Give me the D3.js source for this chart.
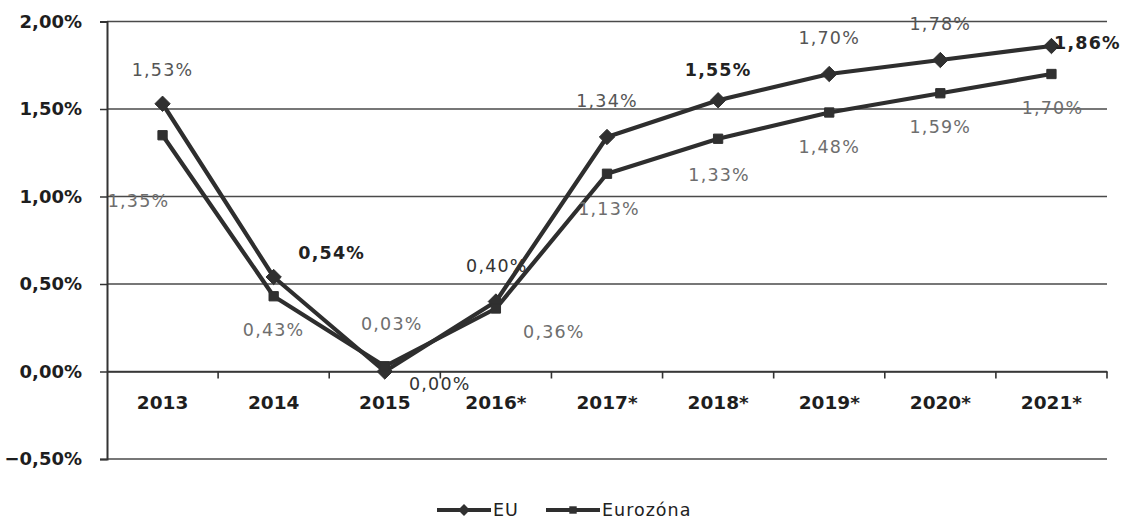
<!DOCTYPE html>
<html>
<head>
<meta charset="utf-8">
<script src="https://cdn.jsdelivr.net/npm/d3@7"></script>
<style>
  html, body { margin: 0; padding: 0; background: #fff; }
  svg { display: block; }
</style>
</head>
<body>
<svg id="chart" width="1125" height="519"></svg>
<script>
// Inflation: EU vs. Eurozone, 2013–2021 (* forecast)
const categories = ["2013", "2014", "2015", "2016*", "2017*", "2018*", "2019*", "2020*", "2021*"];
const euValues = [1.53, 0.54, 0.00, 0.40, 1.34, 1.55, 1.70, 1.78, 1.86];
const ezValues = [1.35, 0.43, 0.03, 0.36, 1.13, 1.33, 1.48, 1.59, 1.70];
const yTicks = [-0.5, 0, 0.5, 1.0, 1.5, 2.0];
const seriesNames = ["EU", "Eurozóna"];

// label placement relative to each point (px) and emphasis
const euLabelLayout = [
  {dx: 0, dy: -34, w: 400, c: "#555"}, {dx: 58, dy: -24, w: 700, c: "#222"},
  {dx: 55, dy: 12, w: 400, c: "#333"}, {dx: 1, dy: -36, w: 400, c: "#333"},
  {dx: 0, dy: -36, w: 400, c: "#555"}, {dx: 0, dy: -31, w: 700, c: "#222"},
  {dx: 0, dy: -36, w: 400, c: "#555"}, {dx: 0, dy: -36, w: 400, c: "#555"},
  {dx: 36, dy: -3, w: 700, c: "#222"}
];
const ezLabelLayout = [
  {dx: -24, dy: 65}, {dx: 0, dy: 33}, {dx: 7, dy: -43}, {dx: 58, dy: 23},
  {dx: 2, dy: 35}, {dx: 1, dy: 36}, {dx: 0, dy: 34}, {dx: 0, dy: 33}, {dx: 1, dy: 34}
];

const svg = d3.select("#chart");
const left = 107, right = 1107;

const x = d3.scaleBand().domain(categories).range([left, right]).padding(0);
const y = d3.scaleLinear().domain([-0.5, 2.0]).range([459, 21.5]);

const locale = d3.formatLocale({decimal: ",", thousands: " ", grouping: [3], currency: ["", "€"]});
const pct = v => locale.format(".2f")(v) + "%";

const lineColor = "#2e2e2e";

// horizontal gridlines
svg.append("g")
  .selectAll("line")
  .data(yTicks)
  .join("line")
  .attr("x1", left).attr("x2", right)
  .attr("y1", d => y(d)).attr("y2", d => y(d))
  .attr("stroke", "#4a4a4a")
  .attr("stroke-width", 1.6);

// y axis
const yAxis = svg.append("g")
  .attr("transform", `translate(${left},0)`)
  .call(d3.axisLeft(y).tickValues(yTicks).tickFormat(pct).tickSize(7).tickPadding(18));
yAxis.select(".domain").attr("stroke", "#333").attr("stroke-width", 2);
yAxis.selectAll(".tick line").attr("stroke", "#333").attr("stroke-width", 1.5);
yAxis.selectAll(".tick text")
  .attr("font-family", "DejaVu Sans, sans-serif")
  .attr("font-weight", "bold")
  .attr("font-size", 18)
  .attr("fill", "#1e1e1e");

// category axis along zero
const xAxis = svg.append("g")
  .attr("transform", `translate(0,${y(0)})`)
  .call(d3.axisBottom(x).tickSize(0).tickPadding(24));
xAxis.select(".domain").attr("stroke", "#333").attr("stroke-width", 1.6);
xAxis.selectAll(".tick text")
  .attr("font-family", "DejaVu Sans, sans-serif")
  .attr("font-weight", "bold")
  .attr("font-size", 18.5)
  .attr("fill", "#1e1e1e");
// tick marks between categories
xAxis.append("g")
  .selectAll("line")
  .data(categories.slice(1).concat([null]))
  .join("line")
  .attr("x1", (d, i) => d ? x(d) : right)
  .attr("x2", (d, i) => d ? x(d) : right)
  .attr("y1", 0).attr("y2", 7)
  .attr("stroke", "#333").attr("stroke-width", 1.6);

const cx = c => x(c) + x.bandwidth() / 2;
const line = d3.line().x((d, i) => cx(categories[i])).y(d => y(d));

const series = [
  {name: seriesNames[0], values: euValues, marker: d3.symbolDiamond2, size: 150},
  {name: seriesNames[1], values: ezValues, marker: d3.symbolSquare2, size: 110}
];

// lines
series.slice().reverse().forEach(s => {
  svg.append("path")
    .datum(s.values)
    .attr("d", line)
    .attr("fill", "none")
    .attr("stroke", lineColor)
    .attr("stroke-width", 4.2)
    .attr("stroke-linejoin", "round");
});

// markers
series.forEach(s => {
  svg.append("g")
    .selectAll("path")
    .data(s.values)
    .join("path")
    .attr("transform", (d, i) => `translate(${cx(categories[i])},${y(d)})`)
    .attr("d", d3.symbol().type(s.marker).size(s.size))
    .attr("fill", "#303030")
    .attr("stroke", "#303030")
    .attr("stroke-width", 1);
});

// data labels
const labelFont = "DejaVu Sans, sans-serif";
svg.append("g")
  .selectAll("text")
  .data(euValues)
  .join("text")
  .attr("x", (d, i) => cx(categories[i]) + euLabelLayout[i].dx)
  .attr("y", (d, i) => y(d) + euLabelLayout[i].dy)
  .attr("dy", "0.36em")
  .attr("text-anchor", "middle")
  .attr("font-family", labelFont)
  .attr("font-size", 17.5)
  .attr("letter-spacing", 1.2)
  .attr("font-weight", (d, i) => euLabelLayout[i].w)
  .attr("fill", (d, i) => euLabelLayout[i].c)
  .text(pct);

svg.append("g")
  .selectAll("text")
  .data(ezValues)
  .join("text")
  .attr("x", (d, i) => cx(categories[i]) + ezLabelLayout[i].dx)
  .attr("y", (d, i) => y(d) + ezLabelLayout[i].dy)
  .attr("dy", "0.36em")
  .attr("text-anchor", "middle")
  .attr("font-family", labelFont)
  .attr("font-size", 17.5)
  .attr("letter-spacing", 1.2)
  .attr("fill", "#6e6e6e")
  .text(pct);

// legend
const legend = svg.append("g").attr("transform", "translate(437,510)");
const legendItems = [
  {name: seriesNames[0], marker: d3.symbolDiamond2, size: 90, x: 0},
  {name: seriesNames[1], marker: d3.symbolSquare2, size: 70, x: 109}
];
legendItems.forEach(it => {
  const g = legend.append("g").attr("transform", `translate(${it.x},0)`);
  g.append("line").attr("x1", 0).attr("x2", 54).attr("y1", 0).attr("y2", 0)
    .attr("stroke", lineColor).attr("stroke-width", 4);
  g.append("path").attr("transform", "translate(27,0)")
    .attr("d", d3.symbol().type(it.marker).size(it.size))
    .attr("fill", "#303030");
  g.append("text").attr("x", 56).attr("y", 0).attr("dy", "0.36em")
    .attr("font-family", labelFont).attr("font-size", 17.5)
    .attr("letter-spacing", 1)
    .attr("fill", "#222")
    .text(it.name);
});
</script>
</body>
</html>
